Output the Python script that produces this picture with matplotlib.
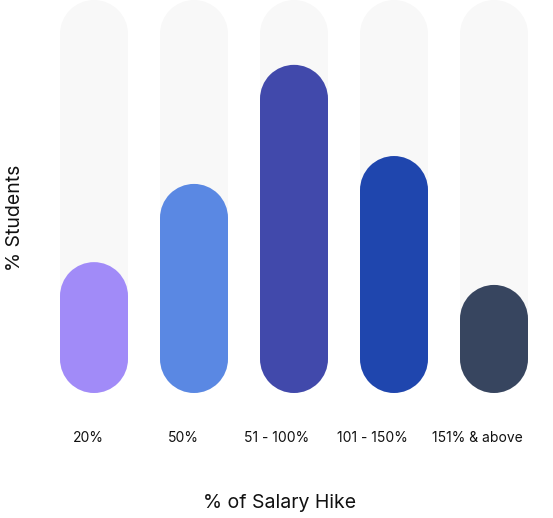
import matplotlib
matplotlib.use("Agg")
import matplotlib.pyplot as plt
from matplotlib.patches import Rectangle, Ellipse

# data
categories = ["20%", "50%", "51 - 100%", "101 - 150%", "151% & above"]
students = [33.3, 53.2, 83.5, 60.3, 27.5]
full_scale = 100
colors = ["#a18bf8", "#5a88e3", "#4149ab", "#1f46ae", "#37455f"]

# layout: label centres in pixels (the labels sit slightly left of the bars)
label_x_px = [88, 183, 277, 372, 477]

plt.rcParams["font.family"] = ["Inter", "DejaVu Sans"]

W, H, DPI = 553, 518, 100
fig = plt.figure(figsize=(W / DPI, H / DPI), dpi=DPI)
fig.patch.set_facecolor("white")

# axes spans px 44..544 horizontally, 0..393 vertically
ax = fig.add_axes([44 / W, (H - 393) / H, 500 / W, 393 / H])
ax.set_xlim(-0.5, len(categories) - 0.5)
ax.set_ylim(0, full_scale)
ax.axis("off")

px_x = 500 / len(categories)        # px per x unit
px_y = 393 / full_scale             # px per y unit
aspect = px_x / px_y
bar_w = 0.68
r_y = bar_w / 2 * aspect            # cap radius in y units


def pill(x, top, color):
    ax.add_patch(Rectangle((x - bar_w / 2, r_y), bar_w, top - 2 * r_y,
                           facecolor=color, edgecolor="none", clip_on=False))
    for yc in (r_y, top - r_y):
        ax.add_patch(Ellipse((x, yc), bar_w, 2 * r_y, facecolor=color,
                             edgecolor="none", clip_on=False))


for i, (v, c) in enumerate(zip(students, colors)):
    pill(i, full_scale, "#f8f8f8")
    pill(i, v, c)
    fig.text(label_x_px[i] / W, 1 - 438 / H, categories[i], ha="center",
             va="center", fontsize=10, color="#111111")

fig.text(280 / W, 1 - 503 / H, "% of Salary Hike", ha="center", va="center",
         fontsize=14, color="#111111")
fig.text(15 / W, 1 - 218 / H, "% Students", ha="center", va="center",
         rotation=90, fontsize=14, color="#111111")

fig.savefig("out.png", dpi=DPI, facecolor="white")
